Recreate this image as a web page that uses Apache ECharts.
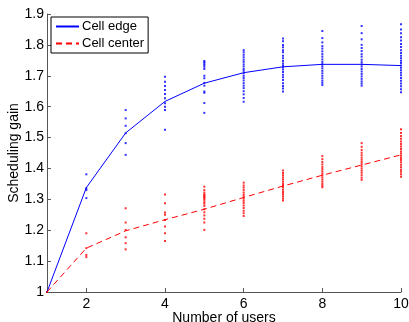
<!DOCTYPE html>
<html>
<head>
<meta charset="utf-8">
<script src="https://cdn.jsdelivr.net/npm/echarts@6/dist/echarts.min.js"></script>
<style>
  html, body { margin: 0; padding: 0; background: #fff; }
  #chart { width: 409px; height: 322px; }
</style>
</head>
<body>
<div id="chart"></div>
<script>
// number of users (x)
const users = [1, 2, 3, 4, 5, 6, 7, 8, 9, 10];

// mean scheduling gain per user count
const edgeMean = [1.0, 1.338, 1.515, 1.617, 1.676, 1.710, 1.729, 1.737, 1.737, 1.733];
const centerMean = [1.0, 1.142, 1.198, 1.234, 1.268, 1.306, 1.343, 1.378, 1.411, 1.444];

// individual realisations (dots), one list per user count
const edgeDots = [
  [1.0],
  [1.381, 1.336, 1.330, 1.304],
  [1.589, 1.562, 1.538, 1.514, 1.482, 1.444],
  [1.697, 1.681, 1.667, 1.654, 1.641, 1.627, 1.611, 1.600, 1.589, 1.525],
  [1.748, 1.744, 1.740, 1.735, 1.729, 1.722, 1.700, 1.692, 1.677, 1.668, 1.649, 1.645, 1.612, 1.580],
  [1.783, 1.776, 1.768, 1.760, 1.752, 1.745, 1.737, 1.730, 1.722, 1.716, 1.708, 1.700, 1.693, 1.685, 1.676, 1.668, 1.660, 1.650, 1.640, 1.628, 1.616],
  [1.821, 1.812, 1.800, 1.792, 1.783, 1.776, 1.765, 1.757, 1.748, 1.740, 1.733, 1.728, 1.720, 1.712, 1.703, 1.695, 1.686, 1.676, 1.667, 1.659, 1.649],
  [1.845, 1.822, 1.808, 1.796, 1.788, 1.779, 1.770, 1.762, 1.753, 1.745, 1.738, 1.731, 1.724, 1.716, 1.708, 1.700, 1.692, 1.684, 1.677, 1.670],
  [1.861, 1.838, 1.818, 1.800, 1.790, 1.780, 1.770, 1.762, 1.752, 1.744, 1.737, 1.730, 1.722, 1.714, 1.706, 1.698, 1.690, 1.682, 1.675, 1.668],
  [1.867, 1.850, 1.838, 1.825, 1.814, 1.803, 1.793, 1.783, 1.774, 1.765, 1.757, 1.749, 1.741, 1.733, 1.726, 1.718, 1.710, 1.702, 1.693, 1.684, 1.675, 1.666, 1.656, 1.647]
];
const centerDots = [
  [1.0],
  [1.190, 1.142, 1.120, 1.113],
  [1.271, 1.225, 1.201, 1.177, 1.158, 1.138],
  [1.316, 1.287, 1.257, 1.250, 1.233, 1.212, 1.190, 1.165],
  [1.341, 1.330, 1.322, 1.316, 1.313, 1.309, 1.306, 1.303, 1.298, 1.291, 1.286, 1.279, 1.268, 1.258, 1.248, 1.237, 1.225, 1.201],
  [1.354, 1.345, 1.338, 1.330, 1.322, 1.315, 1.309, 1.302, 1.295, 1.288, 1.280, 1.272, 1.263, 1.255, 1.246],
  [1.393, 1.385, 1.378, 1.371, 1.364, 1.357, 1.350, 1.344, 1.338, 1.331, 1.324, 1.317, 1.310, 1.303, 1.296],
  [1.440, 1.430, 1.421, 1.413, 1.405, 1.398, 1.391, 1.384, 1.378, 1.371, 1.364, 1.357, 1.350, 1.344, 1.339],
  [1.482, 1.470, 1.460, 1.451, 1.443, 1.435, 1.428, 1.421, 1.414, 1.407, 1.400, 1.393, 1.386, 1.378, 1.370, 1.363],
  [1.527, 1.515, 1.505, 1.496, 1.487, 1.479, 1.471, 1.463, 1.455, 1.448, 1.441, 1.434, 1.427, 1.420, 1.412, 1.404, 1.396, 1.389, 1.381, 1.373]
];

const xTicks = [2, 4, 6, 8, 10];

const toPairs = (cols) => cols.flatMap((vals, i) => vals.map((v) => [users[i], v]));

const font = 'Liberation Sans, Arial, sans-serif';
const axisColor = '#555';

const chart = echarts.init(document.getElementById('chart'));
chart.setOption({
  animation: false,
  textStyle: { fontFamily: font },
  grid: { left: 47, right: 8, top: 14, bottom: 30, containLabel: false, outerBoundsMode: 'none' },
  legend: {
    data: ['Cell edge', 'Cell center'],
    orient: 'vertical',
    left: 51,
    top: 17,
    padding: [3, 4, 3, 4],
    itemGap: 4,
    itemWidth: 23,
    itemHeight: 13,
    borderColor: '#000',
    borderWidth: 1,
    backgroundColor: '#fff',
    // hide the round marker, keep the line sample
    itemStyle: { opacity: 0 },
    textStyle: { fontFamily: font, fontSize: 13, color: '#000', padding: [0, 0, 0, -2] }
  },
  xAxis: {
    type: 'value',
    min: 1,
    max: 10,
    name: 'Number of users',
    nameLocation: 'middle',
    nameGap: 19,
    nameMoveOverlap: false,
    nameTextStyle: { fontFamily: font, fontSize: 14, color: '#000' },
    axisLine: { lineStyle: { color: axisColor, width: 1 } },
    axisTick: { inside: true, length: 4, customValues: xTicks, lineStyle: { color: axisColor } },
    axisLabel: { customValues: xTicks, color: '#000', fontSize: 14, margin: 5 },
    splitLine: { show: false }
  },
  yAxis: {
    type: 'value',
    min: 1,
    max: 1.9,
    interval: 0.1,
    name: 'Scheduling gain',
    nameLocation: 'middle',
    nameGap: 26,
    nameMoveOverlap: false,
    nameTextStyle: { fontFamily: font, fontSize: 14, color: '#000' },
    axisLine: { show: true, lineStyle: { color: axisColor, width: 1 } },
    axisTick: { show: true, inside: true, length: 4, lineStyle: { color: axisColor } },
    axisLabel: { color: '#000', fontSize: 14, margin: 3 },
    splitLine: { show: false }
  },
  series: [
    {
      name: 'edge dots',
      type: 'scatter',
      symbol: 'rect',
      symbolSize: 2,
      itemStyle: { color: '#0000ff' },
      data: toPairs(edgeDots),
      z: 1
    },
    {
      name: 'center dots',
      type: 'scatter',
      symbol: 'rect',
      symbolSize: 2,
      itemStyle: { color: '#ff0000' },
      data: toPairs(centerDots),
      z: 1
    },
    {
      name: 'Cell edge',
      type: 'line',
      symbol: 'none',
      color: '#0000ff',
      lineStyle: { color: '#0000ff', width: 1 },
      data: users.map((u, i) => [u, edgeMean[i]]),
      z: 2
    },
    {
      name: 'Cell center',
      type: 'line',
      symbol: 'none',
      color: '#ff0000',
      lineStyle: { color: '#ff0000', width: 1, type: [6, 4] },
      data: users.map((u, i) => [u, centerMean[i]]),
      z: 2
    }
  ]
});
</script>
</body>
</html>
